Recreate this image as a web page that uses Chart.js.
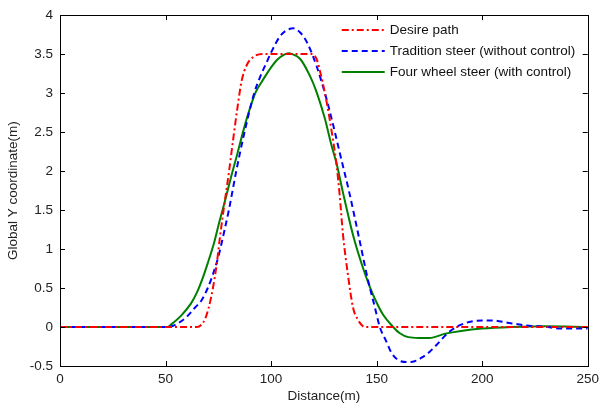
<!DOCTYPE html>
<html>
<head>
<meta charset="utf-8">
<script src="https://cdn.jsdelivr.net/npm/chart.js@4.4.0/dist/chart.umd.min.js"></script>
<style>
  html, body { margin: 0; padding: 0; background: #fff; }
  #wrap { width: 604px; height: 407px; }
</style>
</head>
<body>
<div id="wrap"><canvas id="myChart" width="604" height="407"></canvas></div>
<script>
// values
const desireX = [0, 65, 67, 69, 71.5, 74, 76, 78, 80, 82, 84, 86, 88.5, 92, 96, 119.5, 121.5, 123, 126, 129.5, 131, 132.5, 134, 136.4, 138.8, 141, 143.5, 145, 250];
const desireY = [0, 0, 0.03, 0.12, 0.37, 0.76, 1.2, 1.6, 1.98, 2.4, 2.8, 3.15, 3.36, 3.47, 3.5, 3.5, 3.44, 3.3, 2.93, 2.37, 2.08, 1.69, 1.2, 0.67, 0.25, 0.1, 0.01, 0, 0];

const traditionX = [0, 50, 53, 56, 60, 64, 67, 70, 72, 75, 78, 80, 83.5, 87, 92, 95, 98, 100, 104, 107, 110.5, 114, 117, 121.5, 126, 129.5, 133, 137, 142, 146, 149, 151.5, 154.5, 157, 160, 164.5, 168, 171.5, 175, 178, 184, 190, 195, 200, 205, 212, 221, 231, 237, 250];
const traditionY = [0, 0, 0.01, 0.05, 0.13, 0.25, 0.34, 0.5, 0.64, 0.9, 1.25, 1.5, 2.0, 2.45, 3.0, 3.22, 3.4, 3.52, 3.72, 3.8, 3.83, 3.77, 3.65, 3.35, 2.95, 2.58, 2.18, 1.73, 1.1, 0.59, 0.27, 0.0, -0.18, -0.33, -0.42, -0.45, -0.44, -0.39, -0.32, -0.24, -0.07, 0.03, 0.07, 0.085, 0.085, 0.055, 0.02, 0.0, -0.02, -0.02];

const fourWheelX = [0, 51, 53, 57.5, 62, 65, 67.5, 70, 73, 75.5, 78, 81, 84, 86.5, 89, 92.5, 95, 98, 100, 103, 106, 108.3, 110, 113.7, 118.4, 121.6, 125.5, 128.6, 131, 134, 138.8, 143.5, 147, 149.7, 153, 157.5, 161, 165, 170, 175, 182.5, 190, 200, 214, 230, 250];
const fourWheelY = [0, 0, 0.04, 0.15, 0.3, 0.45, 0.62, 0.82, 1.08, 1.35, 1.6, 1.92, 2.22, 2.48, 2.72, 3.0, 3.12, 3.25, 3.33, 3.43, 3.49, 3.51, 3.5, 3.44, 3.22, 3.01, 2.67, 2.33, 2.1, 1.73, 1.18, 0.76, 0.5, 0.33, 0.16, 0.01, -0.08, -0.13, -0.14, -0.14, -0.085, -0.05, -0.02, 0, 0.01, 0];

const seriesLabels = ['Desire path', 'Tradition steer (without control)', 'Four wheel steer (with control)'];
const xTicks = [0, 50, 100, 150, 200, 250];
const yTicks = [-0.5, 0, 0.5, 1, 1.5, 2, 2.5, 3, 3.5, 4];

const fontFamily = '"Liberation Sans", Arial, sans-serif';

function toPoints(xs, ys) {
    return xs.map((x, i) => ({x: x, y: ys[i]}));
}

// matlab style box, inward ticks and legend inside the axes
const boxPlugin = {
    id: 'boxPlugin',
    afterDraw(chart) {
        const ctx = chart.ctx;
        const a = chart.chartArea;
        const xs = chart.scales.x, ys = chart.scales.y;
        ctx.save();
        ctx.strokeStyle = '#000';
        ctx.lineWidth = 1;
        ctx.setLineDash([]);
        ctx.strokeRect(Math.round(a.left) + 0.5, Math.round(a.top) + 0.5, Math.round(a.right - a.left), Math.round(a.bottom - a.top));
        ctx.beginPath();
        xTicks.forEach(v => {
            const px = Math.round(xs.getPixelForValue(v)) + 0.5;
            ctx.moveTo(px, a.bottom); ctx.lineTo(px, a.bottom - 5);
            ctx.moveTo(px, a.top); ctx.lineTo(px, a.top + 5);
        });
        yTicks.forEach(v => {
            const py = Math.round(ys.getPixelForValue(v)) + 0.5;
            ctx.moveTo(a.left, py); ctx.lineTo(a.left + 5, py);
            ctx.moveTo(a.right, py); ctx.lineTo(a.right - 5, py);
        });
        ctx.stroke();

        // legend
        ctx.font = '13.5px ' + fontFamily;
        ctx.textBaseline = 'middle';
        ctx.fillStyle = '#111';
        chart.data.datasets.forEach((ds, i) => {
            const y = a.top + 15 + i * 21;
            const x0 = a.right - 246;
            ctx.strokeStyle = ds.borderColor;
            ctx.lineWidth = ds.borderWidth;
            ctx.setLineDash(ds.borderDash || []);
            ctx.beginPath();
            ctx.moveTo(x0, y); ctx.lineTo(x0 + 43, y);
            ctx.stroke();
            ctx.setLineDash([]);
            ctx.fillText(ds.label, x0 + 48, y);
        });
        ctx.restore();
    }
};

const ctx = document.getElementById('myChart').getContext('2d');
const myChart = new Chart(ctx, {
    type: 'line',
    data: {
        datasets: [{
            label: seriesLabels[0],
            data: toPoints(desireX, desireY),
            borderColor: '#ff0000',
            borderWidth: 2,
            borderDash: [7, 3, 2, 3]
        }, {
            label: seriesLabels[1],
            data: toPoints(traditionX, traditionY),
            borderColor: '#0000ff',
            borderWidth: 2,
            borderDash: [6, 4]
        }, {
            label: seriesLabels[2],
            data: toPoints(fourWheelX, fourWheelY),
            borderColor: '#008000',
            borderWidth: 2
        }]
    },
    options: {
        responsive: false,
        animation: false,
        devicePixelRatio: 1,
        cubicInterpolationMode: 'monotone',
        elements: { point: { radius: 0 } },
        layout: { padding: { top: 12, right: 11, left: 0, bottom: 0 } },
        plugins: {
            legend: { display: false },
            tooltip: { enabled: false }
        },
        scales: {
            x: {
                type: 'linear',
                min: 0,
                max: 250,
                afterFit: s => { s.height = 41; },
                afterBuildTicks: s => { s.ticks = xTicks.map(v => ({value: v})); },
                grid: { display: false, drawTicks: false },
                border: { display: false },
                ticks: { padding: 5, color: '#222', maxRotation: 0, font: { family: fontFamily, size: 13.5 } },
                title: {
                    display: true,
                    text: 'Distance(m)',
                    color: '#222',
                    padding: { top: 0, bottom: 3 },
                    font: { family: fontFamily, size: 13.5 }
                }
            },
            y: {
                min: -0.5,
                max: 4,
                afterFit: s => { s.width = 60; },
                afterBuildTicks: s => { s.ticks = yTicks.map(v => ({value: v})); },
                grid: { display: false, drawTicks: false },
                border: { display: false },
                ticks: {
                    padding: 7,
                    color: '#222',
                    font: { family: fontFamily, size: 13.5 },
                    callback: v => String(v)
                },
                title: {
                    display: true,
                    text: 'Global Y coordinate(m)',
                    color: '#222',
                    padding: { top: 5, bottom: 0 },
                    font: { family: fontFamily, size: 13.5 }
                }
            }
        }
    },
    plugins: [boxPlugin]
});
</script>
</body>
</html>
